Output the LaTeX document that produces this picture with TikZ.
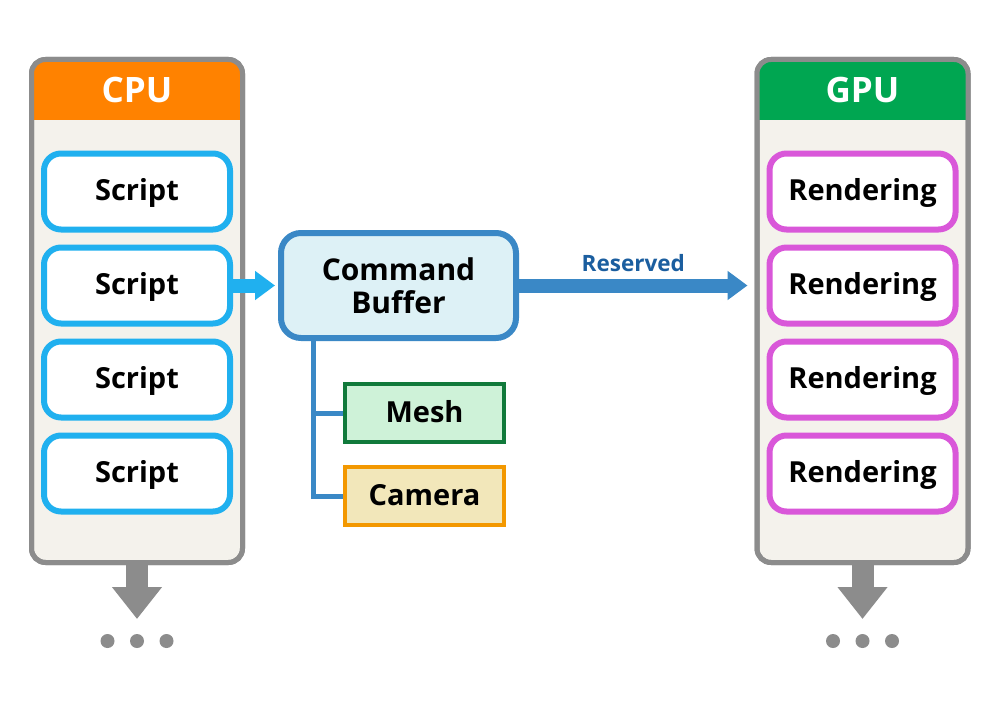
\documentclass[tikz,border=0pt]{standalone}
\usepackage{fontspec}
\setmainfont{Open Sans}
\usetikzlibrary{arrows.meta}
\definecolor{panelgray}{HTML}{8C8C8C}
\definecolor{panelfill}{HTML}{F4F2EC}
\definecolor{cpuorange}{HTML}{FF8200}
\definecolor{gpugreen}{HTML}{00A651}
\definecolor{scriptblue}{HTML}{20B0EF}
\definecolor{rendpink}{HTML}{D957D9}
\definecolor{cbfill}{HTML}{DDF1F6}
\definecolor{cbblue}{HTML}{3A88C6}
\definecolor{resblue}{HTML}{1B5E9F}
\definecolor{meshgreen}{HTML}{117A3B}
\definecolor{meshfill}{HTML}{CEF2D8}
\definecolor{camorange}{HTML}{F39800}
\definecolor{camfill}{HTML}{F2E7BA}
\begin{document}
\begin{tikzpicture}[x=0.5pt,y=-0.5pt,
 panel/.style={draw=panelgray, fill=panelfill, line width=2.5pt, rounded corners=7pt,
   minimum width=105.5pt, minimum height=251.5pt, outer sep=0pt, inner sep=0pt},
 panelborder/.style={draw=panelgray, line width=2.5pt, rounded corners=7pt},
 headtext/.style={text=white, font=\bfseries\fontsize{17.5}{20}\selectfont, anchor=base, inner sep=0pt},
 item/.style={line width=3pt, fill=white, rounded corners=8.5pt, minimum width=93pt, minimum height=38pt,
   font=\bfseries\fontsize{14.5}{17}\selectfont, text height=9pt, text depth=0pt, inner sep=0pt},
 scriptbox/.style={item, draw=scriptblue},
 rendbox/.style={item, draw=rendpink},
 cbbox/.style={draw=cbblue, fill=cbfill, line width=3pt, rounded corners=10pt, minimum width=117.5pt,
   minimum height=52.5pt, align=center, font=\bfseries\fontsize{15}{16.5}\selectfont, inner sep=0pt},
 leaf/.style={line width=2pt, minimum width=79.5pt, minimum height=29pt,
   font=\bfseries\fontsize{14.5}{17}\selectfont, text height=9pt, text depth=0pt, inner sep=0pt},
 meshbox/.style={leaf, draw=meshgreen, fill=meshfill},
 cambox/.style={leaf, draw=camorange, fill=camfill},
 bigarrow/.style={-{Triangle[length=10pt,width=14pt]}, line width=7pt},
 downarrow/.style={-{Triangle[length=16pt,width=24pt]}, line width=11pt, draw=panelgray},
 tree/.style={draw=cbblue, line width=2.5pt},
 dot/.style={circle, fill=panelgray, minimum size=7pt, inner sep=0pt}
]
\useasboundingbox[fill=white] (0,0) rectangle (1000,706);

% CPU panel
\node[panel] (cpu) at (137,311) {};
\begin{scope}
  \clip[rounded corners=7pt] (cpu.south west) rectangle (cpu.north east);
  \fill[cpuorange] (cpu.north west) rectangle (cpu.east |- 0,120);
\end{scope}
\draw[panelborder] (cpu.south west) rectangle (cpu.north east);
\node[headtext] (cpuh) at (137,103) {CPU};

% GPU panel
\node[panel] (gpu) at (862.5,311) {};
\begin{scope}
  \clip[rounded corners=7pt] (gpu.south west) rectangle (gpu.north east);
  \fill[gpugreen] (gpu.north west) rectangle (gpu.east |- 0,120);
\end{scope}
\draw[panelborder] (gpu.south west) rectangle (gpu.north east);
\node[headtext] (gpuh) at (862.5,103) {GPU};

% Script boxes
\node[scriptbox] (s1) at (137,191.5) {Script};
\node[scriptbox] (s2) at (137,285.5) {Script};
\node[scriptbox] (s3) at (137,379.5) {Script};
\node[scriptbox] (s4) at (137,473.5) {Script};

% Rendering boxes
\node[rendbox] (r1) at (862.5,191.5) {Rendering};
\node[rendbox] (r2) at (862.5,285.5) {Rendering};
\node[rendbox] (r3) at (862.5,379.5) {Rendering};
\node[rendbox] (r4) at (862.5,473.5) {Rendering};

% Command buffer
\node[cbbox] (cb) at (398.5,285.5) {Command\\Buffer};
\node[meshbox] (mesh) at (424.5,413) {Mesh};
\node[cambox] (cam) at (424.5,496) {Camera};

\coordinate (treetop) at ([xshift=17.5pt]cb.south west);
\draw[tree] (treetop) |- (cam.west);
\draw[tree] (treetop |- mesh.west) -- (mesh.west);

% arrows
\draw[bigarrow, draw=scriptblue, fill=scriptblue] (s2.east) -- ([xshift=-1.5pt]cb.west);
\path (cb.east -| gpu.west) coordinate (gpuin);
\draw[bigarrow, draw=cbblue, fill=cbblue] (cb.east) -- ([xshift=-4.75pt]gpuin)
  node[midway, anchor=base, yshift=7pt, text=resblue, font=\bfseries\fontsize{11.25}{13}\selectfont, inner sep=0pt] (res) {Reserved};

\coordinate (cpuend) at (137,619);
\coordinate (gpuend) at (862.5,619);
\draw[downarrow, fill=panelgray] (cpu.south) -- (cpuend);
\draw[downarrow, fill=panelgray] (gpu.south) -- (gpuend);

\node[dot] (cd1) at (107.5,641) {};
\node[dot] (cd2) at (137,641) {};
\node[dot] (cd3) at (166.5,641) {};
\node[dot] (gd1) at (833,641) {};
\node[dot] (gd2) at (862.5,641) {};
\node[dot] (gd3) at (892,641) {};
\end{tikzpicture}
\end{document}
